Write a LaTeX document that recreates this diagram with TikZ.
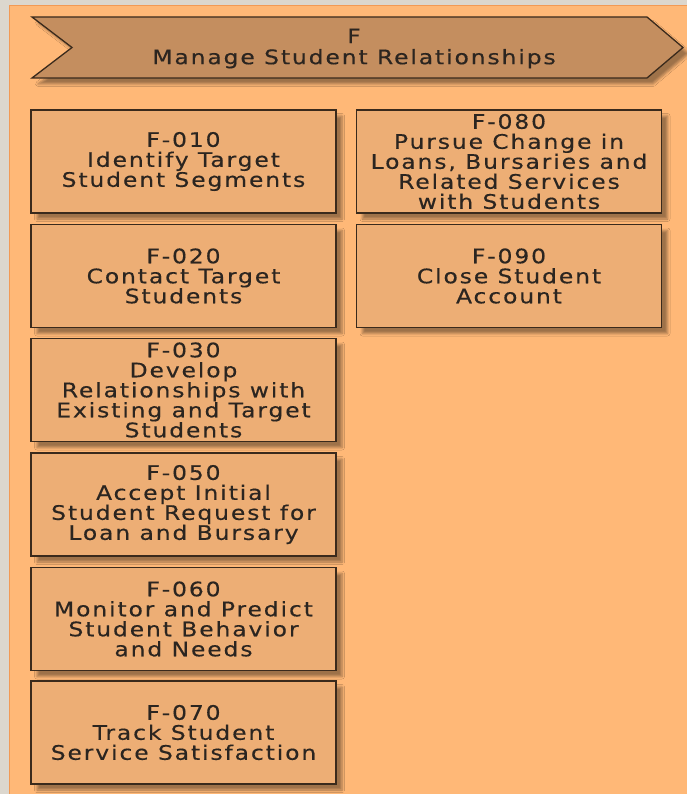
\documentclass[tikz,border=0pt]{standalone}
\usepackage{fontspec}
\usetikzlibrary{shadows.blur}
\newfontfamily\boxfont[FakeStretch=1.17,LetterSpace=9.5,FakeBold=0.4]{DejaVu Sans}
\definecolor{stonebg}{HTML}{DCD7CE}
\definecolor{panelfill}{HTML}{FFB877}
\definecolor{paneledge}{HTML}{F29A55}
\definecolor{bannerfill}{HTML}{C48E5F}
\definecolor{boxfill}{HTML}{EDAE75}
\definecolor{edgecol}{HTML}{3A2A1C}
\definecolor{inkcol}{HTML}{2B2520}
\tikzset{
  softshadow/.style={blur shadow={shadow xshift=6pt, shadow yshift=-6pt,
      shadow opacity=38, shadow blur steps=5, shadow blur radius=2.5pt}},
  procbox/.style={draw=edgecol, line width=1.3pt, fill=boxfill,
    minimum width=305pt, minimum height=103pt, inner sep=0pt,
    align=center, text=inkcol, font=\boxfont\fontsize{20}{20}\selectfont,
    softshadow},
  bannertext/.style={align=center, text=inkcol, inner sep=0pt,
    font=\boxfont\fontsize{20}{21}\selectfont}
}
\begin{document}
\begin{tikzpicture}[x=1pt,y=-1pt]
  % backdrop and orange panel
  \fill[stonebg] (0,0) rectangle (687,794);
  \useasboundingbox (0,0) rectangle (687,794);
  \fill[panelfill] (9,5) rectangle (687,794);
  \draw[paneledge, line width=0.8pt] (9.4,794) -- (9.4,5.4) -- (687,5.4);

  % chevron banner
  \path[softshadow, fill=bannerfill, draw=edgecol, line width=1.3pt, line join=miter]
    (32,17) -- (647,17) -- (683,47.5) -- (647,78) -- (32,78) -- (72,47.5) -- cycle;
  \node[bannertext] (banner) at (354,48.5) {F\\Manage Student Relationships};

  % left column
  \node[procbox] (f010) at (183.5,161.5) {F-010\\Identify Target\\Student Segments};
  \node[procbox] (f020) at (183.5,276)   {F-020\\Contact Target\\Students};
  \node[procbox] (f030) at (183.5,390)   {F-030\\Develop\\Relationships with\\Existing and Target\\Students};
  \node[procbox] (f050) at (183.5,504.5) {F-050\\Accept Initial\\Student Request for\\Loan and Bursary};
  \node[procbox] (f060) at (183.5,619)   {F-060\\Monitor and Predict\\Student Behavior\\and Needs};
  \node[procbox] (f070) at (183.5,732.5) {F-070\\Track Student\\Service Satisfaction};

  % right column
  \node[procbox] (f080) at (509,161.5) {F-080\\Pursue Change in\\Loans, Bursaries and\\Related Services\\with Students};
  \node[procbox] (f090) at (509,276)   {F-090\\Close Student\\Account};
\end{tikzpicture}
\end{document}
